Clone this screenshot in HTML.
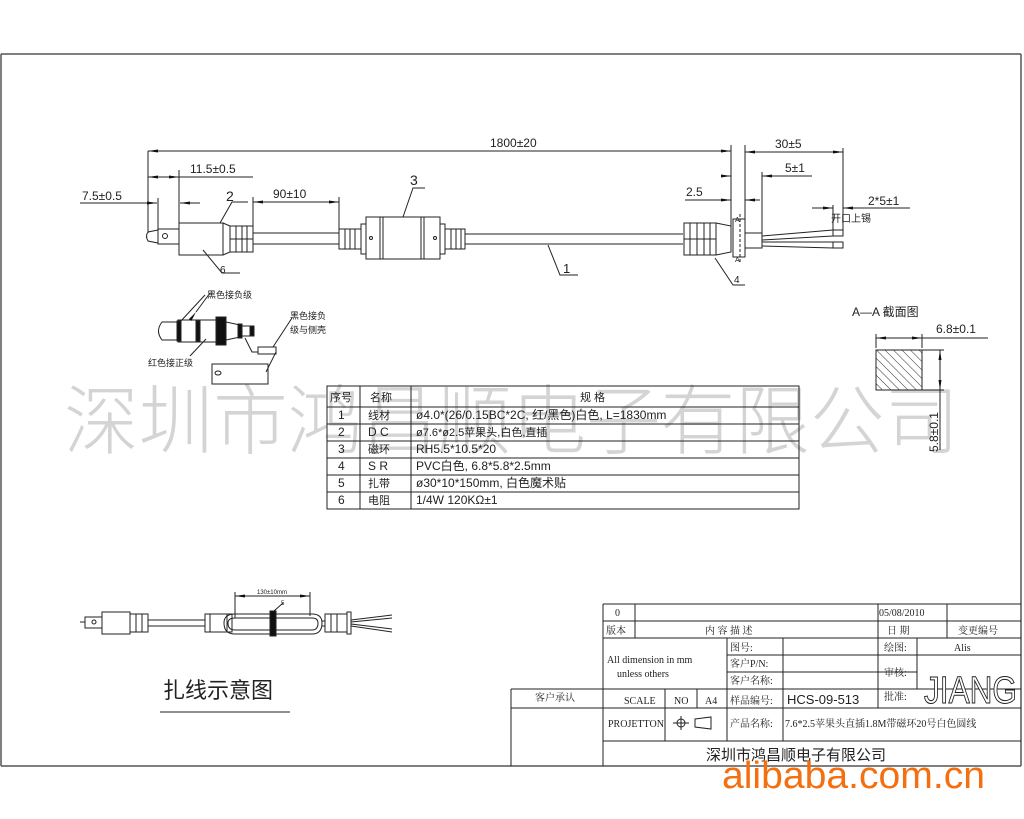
<!DOCTYPE html>
<html><head><meta charset="utf-8"><style>
html,body{margin:0;padding:0;background:#fff}
svg{display:block}
text{font-family:"Liberation Sans","Noto Sans CJK SC",sans-serif;fill:#222}
.s{font-family:"Liberation Serif","Noto Serif CJK SC",serif}
</style></head><body>
<svg width="1024" height="819" viewBox="0 0 1024 819" xmlns="http://www.w3.org/2000/svg">
<defs>
<marker id="a" markerWidth="10" markerHeight="6" refX="10" refY="3" orient="auto"><path d="M0,1.5 L10,3 L0,4.5z" fill="#111"/></marker>
<pattern id="h" width="6" height="6" patternUnits="userSpaceOnUse" patternTransform="rotate(-45)"><line x1="0" y1="0" x2="0" y2="6" stroke="#333" stroke-width="1"/></pattern>
</defs>
<!-- watermark -->
<text x="64" y="448" font-size="76" textLength="895" lengthAdjust="spacingAndGlyphs" style="fill:#d4d4d4" font-family="Noto Sans CJK SC, sans-serif" font-weight="300">深圳市鸿昌顺电子有限公司</text>
<!-- frame -->
<g stroke="#555" stroke-width="1.5" fill="none">
<line x1="1" y1="54" x2="1021" y2="54"/><line x1="1" y1="54" x2="1" y2="766"/><line x1="1021" y1="54" x2="1021" y2="766"/><line x1="1" y1="766" x2="1021" y2="766"/>
</g>
<g stroke="#222" stroke-width="1" fill="none">
<line x1="148" y1="151" x2="731" y2="151" marker-end="url(#a)"/><line x1="170" y1="151" x2="148" y2="151" marker-end="url(#a)"/>
<line x1="148" y1="151" x2="148" y2="233"/>
<line x1="148" y1="177" x2="253" y2="177"/><line x1="160" y1="177" x2="148" y2="177" marker-end="url(#a)"/><line x1="167" y1="177" x2="179" y2="177" marker-end="url(#a)"/>
<line x1="179" y1="170" x2="179" y2="225"/>
<line x1="80" y1="203" x2="157" y2="203" marker-end="url(#a)"/><line x1="158" y1="198" x2="158" y2="232"/>
<line x1="200" y1="203" x2="180" y2="203" marker-end="url(#a)"/>
<line x1="253" y1="202" x2="339" y2="202"/><line x1="270" y1="202" x2="253" y2="202" marker-end="url(#a)"/><line x1="320" y1="202" x2="339" y2="202" marker-end="url(#a)"/>
<line x1="253" y1="197" x2="253" y2="230"/><line x1="339" y1="197" x2="339" y2="230"/>
<path d="M158,230 L148,232 Q145,236 148,241 L158,243 Z"/>
<rect x="158" y="229" width="21" height="15"/><circle cx="165" cy="236" r="2.5"/>
<rect x="179" y="223" width="44" height="32"/>
<path d="M223,223 L230,226 L230,252 L223,255"/>
<rect x="230" y="226" width="23" height="26"/>
<line x1="236" y1="226" x2="236" y2="252"/><line x1="242" y1="226" x2="242" y2="252"/><line x1="247" y1="226" x2="247" y2="252"/>
<line x1="230" y1="239" x2="253" y2="239"/>
<line x1="253" y1="233" x2="339" y2="233"/><line x1="253" y1="244" x2="339" y2="244"/>
<rect x="339" y="229" width="22" height="20"/><line x1="345" y1="229" x2="345" y2="249"/><line x1="350" y1="229" x2="350" y2="249"/><line x1="355" y1="229" x2="355" y2="249"/>
<rect x="361" y="224" width="5" height="30"/>
<rect x="366" y="217" width="74" height="42"/>
<line x1="380" y1="217" x2="380" y2="259"/><line x1="383" y1="217" x2="383" y2="259"/>
<line x1="421" y1="217" x2="421" y2="259"/><line x1="424" y1="217" x2="424" y2="259"/>
<circle cx="371" cy="238" r="1.5"/><circle cx="435" cy="238" r="1.5"/>
<rect x="440" y="224" width="5" height="30"/>
<rect x="445" y="229" width="20" height="20"/><line x1="451" y1="229" x2="451" y2="249"/><line x1="456" y1="229" x2="456" y2="249"/><line x1="461" y1="229" x2="461" y2="249"/>
<line x1="465" y1="234" x2="683" y2="234"/><line x1="465" y1="244" x2="683" y2="244"/>
<path d="M220,223 L232,202 L248,202"/><path d="M203,250 L222,273 L240,273"/>
<path d="M403,217 L413,188 L425,188"/><path d="M548,245 L560,275 L578,275"/>
<path d="M715,258 L733,285 L745,285"/>
<rect x="684" y="223" width="32" height="32"/>
<line x1="690" y1="223" x2="690" y2="255"/><line x1="697" y1="223" x2="697" y2="255"/><line x1="704" y1="223" x2="704" y2="255"/><line x1="710" y1="223" x2="710" y2="255"/>
<path d="M716,223 L731,226 L731,252 L716,255"/>
<line x1="684" y1="239" x2="716" y2="239"/>
<rect x="733" y="219" width="12" height="38"/>
<line x1="740" y1="214" x2="740" y2="262" stroke-dasharray="3,2"/>
<path d="M745,233 L762,233 L762,248 L745,248"/>
<path d="M762,236 L833,230 M762,240 L833,236 M762,242 L833,242 M762,246 L833,248"/>
<rect x="833" y="230" width="10" height="6"/><rect x="833" y="242" width="10" height="6"/>
<line x1="731" y1="145" x2="731" y2="230"/><line x1="745" y1="145" x2="745" y2="219"/>
<line x1="745" y1="152" x2="843" y2="152"/><line x1="760" y1="152" x2="745" y2="152" marker-end="url(#a)"/><line x1="828" y1="152" x2="843" y2="152" marker-end="url(#a)"/>
<line x1="843" y1="148" x2="843" y2="230"/>
<line x1="762" y1="176" x2="812" y2="176"/><line x1="775" y1="176" x2="762" y2="176" marker-end="url(#a)"/>
<line x1="762" y1="172" x2="762" y2="233"/>
<line x1="724" y1="176" x2="731" y2="176" marker-end="url(#a)"/>
<line x1="685" y1="200" x2="731" y2="200" marker-end="url(#a)"/><line x1="760" y1="200" x2="745" y2="200" marker-end="url(#a)"/>
<line x1="812" y1="208" x2="833" y2="208" marker-end="url(#a)"/><line x1="910" y1="208" x2="843" y2="208" marker-end="url(#a)"/>
<line x1="833" y1="205" x2="833" y2="230"/>
<rect x="876" y="350" width="46" height="40" fill="url(#h)"/>
<line x1="876" y1="338" x2="988" y2="338"/><line x1="876" y1="334" x2="876" y2="348"/><line x1="922" y1="334" x2="922" y2="348"/>
<line x1="890" y1="338" x2="876" y2="338" marker-end="url(#a)"/><line x1="908" y1="338" x2="922" y2="338" marker-end="url(#a)"/>
<line x1="922" y1="350" x2="944" y2="350"/><line x1="922" y1="390" x2="944" y2="390"/>
<line x1="940" y1="350" x2="940" y2="450"/><line x1="940" y1="365" x2="940" y2="350" marker-end="url(#a)"/><line x1="940" y1="375" x2="940" y2="390" marker-end="url(#a)"/>
<path d="M178,322 L162,322 Q155,331 162,340 L178,340"/>
<rect x="178" y="320" width="48" height="22"/>
<rect x="177" y="321" width="4" height="20" fill="#111"/><rect x="196" y="321" width="4" height="20" fill="#111"/>
<rect x="216" y="317" width="10" height="28" fill="#111"/>
<path d="M226,322 L240,325 L240,337 L226,340"/>
<rect x="238" y="324" width="4" height="14" fill="#111"/><rect x="242" y="326" width="8" height="10"/><rect x="250" y="326" width="4" height="10" fill="#111"/>
<path d="M245,338 L252,352 L258,352"/><rect x="258" y="347" width="18" height="7"/>
<path d="M276,352 L266,372"/>
<rect x="212" y="364" width="56" height="20"/><ellipse cx="218" cy="373" rx="3" ry="2"/>
<line x1="196" y1="312" x2="210" y2="293" marker-start="url(#a)"/>
<line x1="180" y1="322" x2="205" y2="295"/>
<line x1="190" y1="356" x2="206" y2="339"/>
<line x1="273" y1="347" x2="292" y2="318"/>
<rect x="327" y="386" width="472" height="123"/>
<line x1="327" y1="407" x2="799" y2="407"/><line x1="327" y1="424" x2="799" y2="424"/><line x1="327" y1="441" x2="799" y2="441"/><line x1="327" y1="458" x2="799" y2="458"/><line x1="327" y1="475" x2="799" y2="475"/><line x1="327" y1="492" x2="799" y2="492"/>
<line x1="360" y1="386" x2="360" y2="509"/><line x1="411" y1="386" x2="411" y2="509"/>
<line x1="80" y1="622" x2="85" y2="622"/><rect x="85" y="617" width="17" height="11"/><circle cx="94" cy="622" r="2"/>
<rect x="102" y="612" width="28" height="22"/><rect x="130" y="614" width="18" height="18"/>
<line x1="136" y1="614" x2="136" y2="632"/><line x1="142" y1="614" x2="142" y2="632"/>
<line x1="148" y1="620" x2="205" y2="620"/><line x1="148" y1="626" x2="205" y2="626"/>
<rect x="205" y="614" width="27" height="18"/><line x1="210" y1="614" x2="210" y2="632"/><line x1="227" y1="614" x2="227" y2="632"/>
<path d="M235,618 Q228,618 228,623 Q228,630 235,630 L312,630 Q318,630 318,623 Q318,618 312,618 Z"/>
<path d="M235,614 Q224,614 224,623 Q224,634 235,634 L312,634 Q322,634 322,623 Q322,614 312,614 Z"/>
<rect x="270" y="611" width="6" height="25" fill="#111"/>
<line x1="322" y1="621" x2="325" y2="621"/><line x1="322" y1="626" x2="325" y2="626"/>
<rect x="325" y="614" width="22" height="18"/><line x1="331" y1="614" x2="331" y2="632"/><line x1="337" y1="614" x2="337" y2="632"/><rect x="347" y="612" width="4" height="22"/>
<path d="M351,620 L392,615 M351,626 L392,632 M351,622 L392,618 M351,624 L392,629"/>
<line x1="235" y1="596" x2="310" y2="596"/><line x1="235" y1="592" x2="235" y2="618"/><line x1="310" y1="592" x2="310" y2="616"/>
<line x1="245" y1="596" x2="235" y2="596" marker-end="url(#a)"/><line x1="300" y1="596" x2="310" y2="596" marker-end="url(#a)"/>
<line x1="274" y1="611" x2="283" y2="603"/>
<line x1="160" y1="712" x2="290" y2="712"/>
<line x1="603" y1="604" x2="1021" y2="604"/><line x1="603" y1="621" x2="1021" y2="621"/><line x1="603" y1="638" x2="1021" y2="638"/>
<line x1="511" y1="689" x2="1021" y2="689"/><line x1="511" y1="708" x2="1021" y2="708"/><line x1="603" y1="741" x2="1021" y2="741"/>
<line x1="727" y1="655" x2="878" y2="655"/><line x1="727" y1="672" x2="878" y2="672"/>
<line x1="878" y1="655" x2="1021" y2="655"/><line x1="878" y1="672" x2="917" y2="672"/>
<line x1="603" y1="604" x2="603" y2="766"/><line x1="511" y1="689" x2="511" y2="766"/>
<line x1="635" y1="604" x2="635" y2="638"/>
<line x1="878" y1="604" x2="878" y2="708"/><line x1="947" y1="604" x2="947" y2="638"/>
<line x1="917" y1="638" x2="917" y2="689"/>
<line x1="727" y1="638" x2="727" y2="741"/><line x1="783" y1="638" x2="783" y2="741"/>
<line x1="665" y1="689" x2="665" y2="741"/><line x1="697" y1="689" x2="697" y2="708"/>
</g>
<g font-size="12">
<text x="490" y="147">1800±20</text>
<text x="190" y="173">11.5±0.5</text>
<text x="82" y="200">7.5±0.5</text>
<text x="273" y="198">90±10</text>
<text x="226" y="201" font-size="14">2</text>
<text x="220" y="273" font-size="10">6</text>
<text x="410" y="185" font-size="14">3</text>
<text x="563" y="273" font-size="13">1</text>
<text x="734" y="283" font-size="10">4</text>
<text x="775" y="148">30±5</text>
<text x="785" y="172">5±1</text>
<text x="686" y="196">2.5</text>
<text x="868" y="205">2*5±1</text>
<text x="831" y="222" font-size="10">开口上锡</text>
<text x="735" y="222" font-size="7">A</text><text x="735" y="262" font-size="7">A</text>
<text x="852" y="316" font-size="12">A—A  截面图</text>
<text x="936" y="333">6.8±0.1</text>
<text transform="translate(938,452) rotate(-90)">5.8±0.1</text>
<text x="207" y="298" font-size="9">黑色接负级</text>
<text x="290" y="319" font-size="9">黑色接负</text>
<text x="290" y="333" font-size="9">级与侧壳</text>
<text x="148" y="366" font-size="9">红色接正级</text>
</g>
<g font-size="12">
<text x="330" y="401" font-size="11">序号</text><text x="370" y="401" font-size="11">名称</text><text x="580" y="401" font-size="11">规    格</text>
<text x="338" y="419">1</text><text x="368" y="419" font-size="11">线材</text><text x="416" y="419">ø4.0*(26/0.15BC*2C, 红/黑色)白色, L=1830mm</text>
<text x="338" y="436">2</text><text x="368" y="436">D C</text><text x="416" y="436" font-size="11">ø7.6*ø2.5苹果头,白色,直插</text>
<text x="338" y="453">3</text><text x="368" y="453" font-size="11">磁环</text><text x="416" y="453">RH5.5*10.5*20</text>
<text x="338" y="470">4</text><text x="368" y="470">S R</text><text x="416" y="470">PVC白色, 6.8*5.8*2.5mm</text>
<text x="338" y="487">5</text><text x="368" y="487" font-size="11">扎带</text><text x="416" y="487">ø30*10*150mm, 白色魔术贴</text>
<text x="338" y="504">6</text><text x="368" y="504" font-size="11">电阻</text><text x="416" y="504">1/4W 120KΩ±1</text>
</g>
<text x="257" y="594" font-size="6">130±10mm</text>
<text x="281" y="605" font-size="6">5</text>
<text x="163" y="698" font-size="22" font-family="Noto Serif CJK SC, serif">扎线示意图</text>
<g font-size="10" class="s">
<text x="615" y="616" class="s">0</text>
<text x="879" y="616" class="s">05/08/2010</text>
<text x="606" y="634" class="s">版本</text>
<text x="705" y="634" class="s">内  容  描  述</text>
<text x="887" y="634" class="s">日    期</text>
<text x="958" y="634" class="s">变更编号</text>
<text x="607" y="663" class="s">All dimension in mm</text>
<text x="617" y="677" class="s">unless others</text>
<text x="730" y="651" class="s">图号:</text>
<text x="730" y="667" class="s">客户P/N:</text>
<text x="730" y="684" class="s">客户名称:</text>
<text x="884" y="651" class="s">绘图:</text>
<text x="954" y="651" class="s">Alis</text>
<text x="884" y="676" class="s">审核:</text>
<text x="884" y="700" class="s">批准:</text>
<text x="535" y="701" class="s">客户承认</text>
<text x="624" y="704" class="s">SCALE</text>
<text x="674" y="704" class="s">NO</text>
<text x="705" y="704" class="s">A4</text>
<text x="730" y="704" class="s">样品编号:</text>
<text x="608" y="727" class="s">PROJETTON</text>
<text x="730" y="727" class="s">产品名称:</text>
<text x="785" y="727" class="s" font-size="10">7.6*2.5苹果头直插1.8M带磁环20号白色圆线</text>
</g>
<text x="787" y="704" font-size="13">HCS-09-513</text>
<text x="924" y="703" font-size="38" textLength="93" lengthAdjust="spacingAndGlyphs" style="fill:#fff;stroke:#222;stroke-width:1">JIANG</text>
<g stroke="#222" fill="none"><circle cx="681" cy="723" r="4"/><line x1="673" y1="723" x2="689" y2="723"/><line x1="681" y1="716" x2="681" y2="730"/><path d="M695,719 L711,717 L711,729 L695,727 Z"/></g>
<text x="706" y="760" font-size="15" font-family="Noto Serif CJK SC, serif">深圳市鸿昌顺电子有限公司</text>
<text x="722" y="788" font-size="38" textLength="263" lengthAdjust="spacingAndGlyphs" style="fill:#f36f10">alibaba.com.cn</text>
</svg>
</body></html>
